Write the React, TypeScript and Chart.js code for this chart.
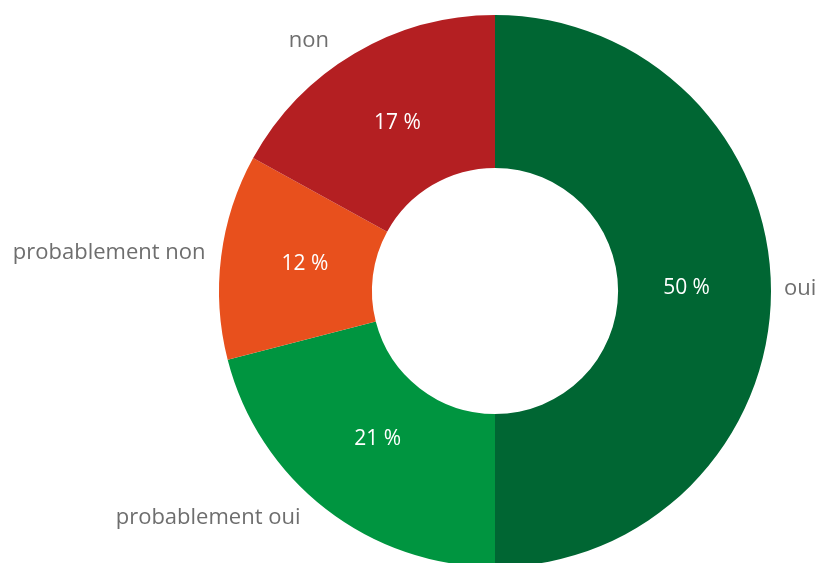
import React, { useEffect, useRef } from "react";
import { Chart, registerables } from "chart.js";

Chart.register(...registerables);

const categories: string[] = ["oui", "probablement oui", "probablement non", "non"];
const shares: number[] = [50, 21, 12, 17];
const valueLabels: string[] = ["50 %", "21 %", "12 %", "17 %"];
const sliceColors: string[] = ["#006633", "#009540", "#E8501D", "#B41F22"];

const FONT = "'Open Sans', 'Liberation Sans', sans-serif";

const labelPlugin = {
  id: "donutLabels",
  afterDatasetsDraw(chart: any) {
    const ctx = chart.ctx as CanvasRenderingContext2D;
    const meta = chart.getDatasetMeta(0);
    ctx.save();
    meta.data.forEach((arc: any, i: number) => {
      const { x, y, startAngle, endAngle, outerRadius, innerRadius } = arc.getProps(
        ["x", "y", "startAngle", "endAngle", "outerRadius", "innerRadius"],
        true
      );
      const mid = (startAngle + endAngle) / 2;
      const dx = Math.cos(mid);
      const dy = Math.sin(mid);

      // value label inside the ring
      const rIn = ((outerRadius + innerRadius) / 2) * 0.96;
      ctx.fillStyle = "#ffffff";
      ctx.font = `21px ${FONT}`;
      ctx.textAlign = "center";
      ctx.textBaseline = "middle";
      ctx.fillText(valueLabels[i], x + dx * rIn, y + dy * rIn - 3);

      // category label outside
      const rOut = outerRadius + 13;
      const side = dx >= 0 ? 1 : -1;
      const ax = x + dx * rOut + side * 22 * Math.abs(dy);
      const ay = y + dy * rOut;
      ctx.fillStyle = "#6e6e6e";
      ctx.font = `22px ${FONT}`;
      ctx.textAlign = side > 0 ? "left" : "right";
      ctx.textBaseline = "middle";
      ctx.fillText(categories[i], ax, ay - 2);
    });
    ctx.restore();
  },
};

export default function App() {
  const canvasRef = useRef<HTMLCanvasElement | null>(null);

  useEffect(() => {
    if (!canvasRef.current) return;
    const chart = new Chart(canvasRef.current, {
      type: "doughnut",
      data: {
        labels: categories,
        datasets: [
          {
            data: shares,
            backgroundColor: sliceColors,
            borderWidth: 0,
            hoverOffset: 0,
            offset: 0,
          },
        ],
      },
      options: {
        responsive: false,
        animation: false,
        events: [],
        cutout: "44.6%",
        layout: { padding: { top: 15, bottom: 3, left: 173, right: 0 } },
        plugins: {
          legend: { display: false },
          tooltip: { enabled: false },
        },
      },
      plugins: [labelPlugin],
    });
    return () => chart.destroy();
  }, []);

  return (
    <div
      style={{
        position: "absolute",
        left: 0,
        top: 0,
        width: 817,
        height: 563,
        overflow: "hidden",
        background: "#ffffff",
      }}
    >
      <canvas ref={canvasRef} width={817} height={570} style={{ display: "block" }} />
    </div>
  );
}
